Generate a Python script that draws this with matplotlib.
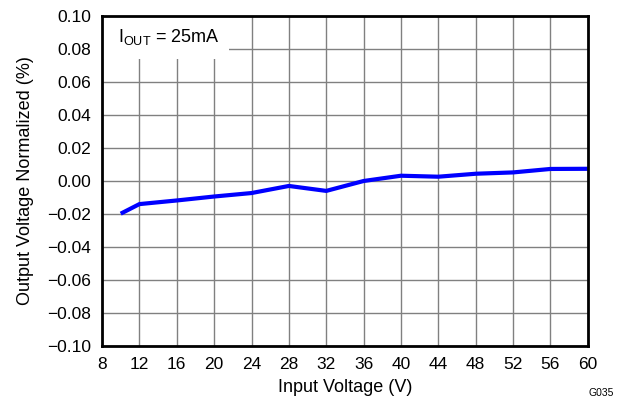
import matplotlib
matplotlib.use("Agg")
import matplotlib.pyplot as plt
from matplotlib.patches import Rectangle

plt.rcParams['font.family'] = ['Liberation Sans', 'DejaVu Sans']

input_voltage = [10, 12, 16, 20, 24, 28, 32, 36, 40, 44, 48, 52, 56, 60]
output_norm = [-0.0198, -0.014, -0.0118, -0.0094, -0.0073, -0.0030, -0.0060, 0.0,
               0.0032, 0.0026, 0.0044, 0.0052, 0.0073, 0.0074]
x_ticks = list(range(8, 61, 4))
y_ticks = [-0.10, -0.08, -0.06, -0.04, -0.02, 0.00, 0.02, 0.04, 0.06, 0.08, 0.10]
y_tick_labels = ["\u22120.10", "\u22120.08", "\u22120.06", "\u22120.04", "\u22120.02",
                 "0.00", "0.02", "0.04", "0.06", "0.08", "0.10"]

fig = plt.figure(figsize=(6.26, 4.0), dpi=100)
ax = fig.add_axes([0.163, 0.135, 0.776, 0.825])

ax.plot(input_voltage, output_norm, color='#0000ff', lw=3, solid_capstyle='butt', zorder=3)

ax.set_xlim(8, 60)
ax.set_ylim(-0.10, 0.10)
ax.set_xticks(x_ticks)
ax.set_yticks(y_ticks)
ax.set_yticklabels(y_tick_labels)
ax.tick_params(length=0, labelsize=12.5)
ax.tick_params(axis='y', pad=8)
ax.tick_params(axis='x', pad=8)
ax.grid(True, color='#808080', lw=1.0)
ax.set_axisbelow(True)
for s in ax.spines.values():
    s.set_linewidth(2)
    s.set_color('black')
    s.set_zorder(6)

ax.set_xlabel('Input Voltage (V)', fontsize=13, labelpad=5)
ax.set_ylabel('Output Voltage Normalized (%)', fontsize=13, labelpad=9)

ax.add_patch(Rectangle((0, 0.87), 0.262, 0.13, transform=ax.transAxes,
                       fc='white', ec='none', zorder=2))
ax.text(0.033, 0.922, 'I$_{\\mathregular{OUT}}$ = 25mA', transform=ax.transAxes,
        ha='left', va='baseline', fontsize=13, zorder=4)

fig.text(0.981, 0.0175, 'G035', fontsize=7.5, ha='right', va='center')

fig.savefig('out.png', dpi=100)
